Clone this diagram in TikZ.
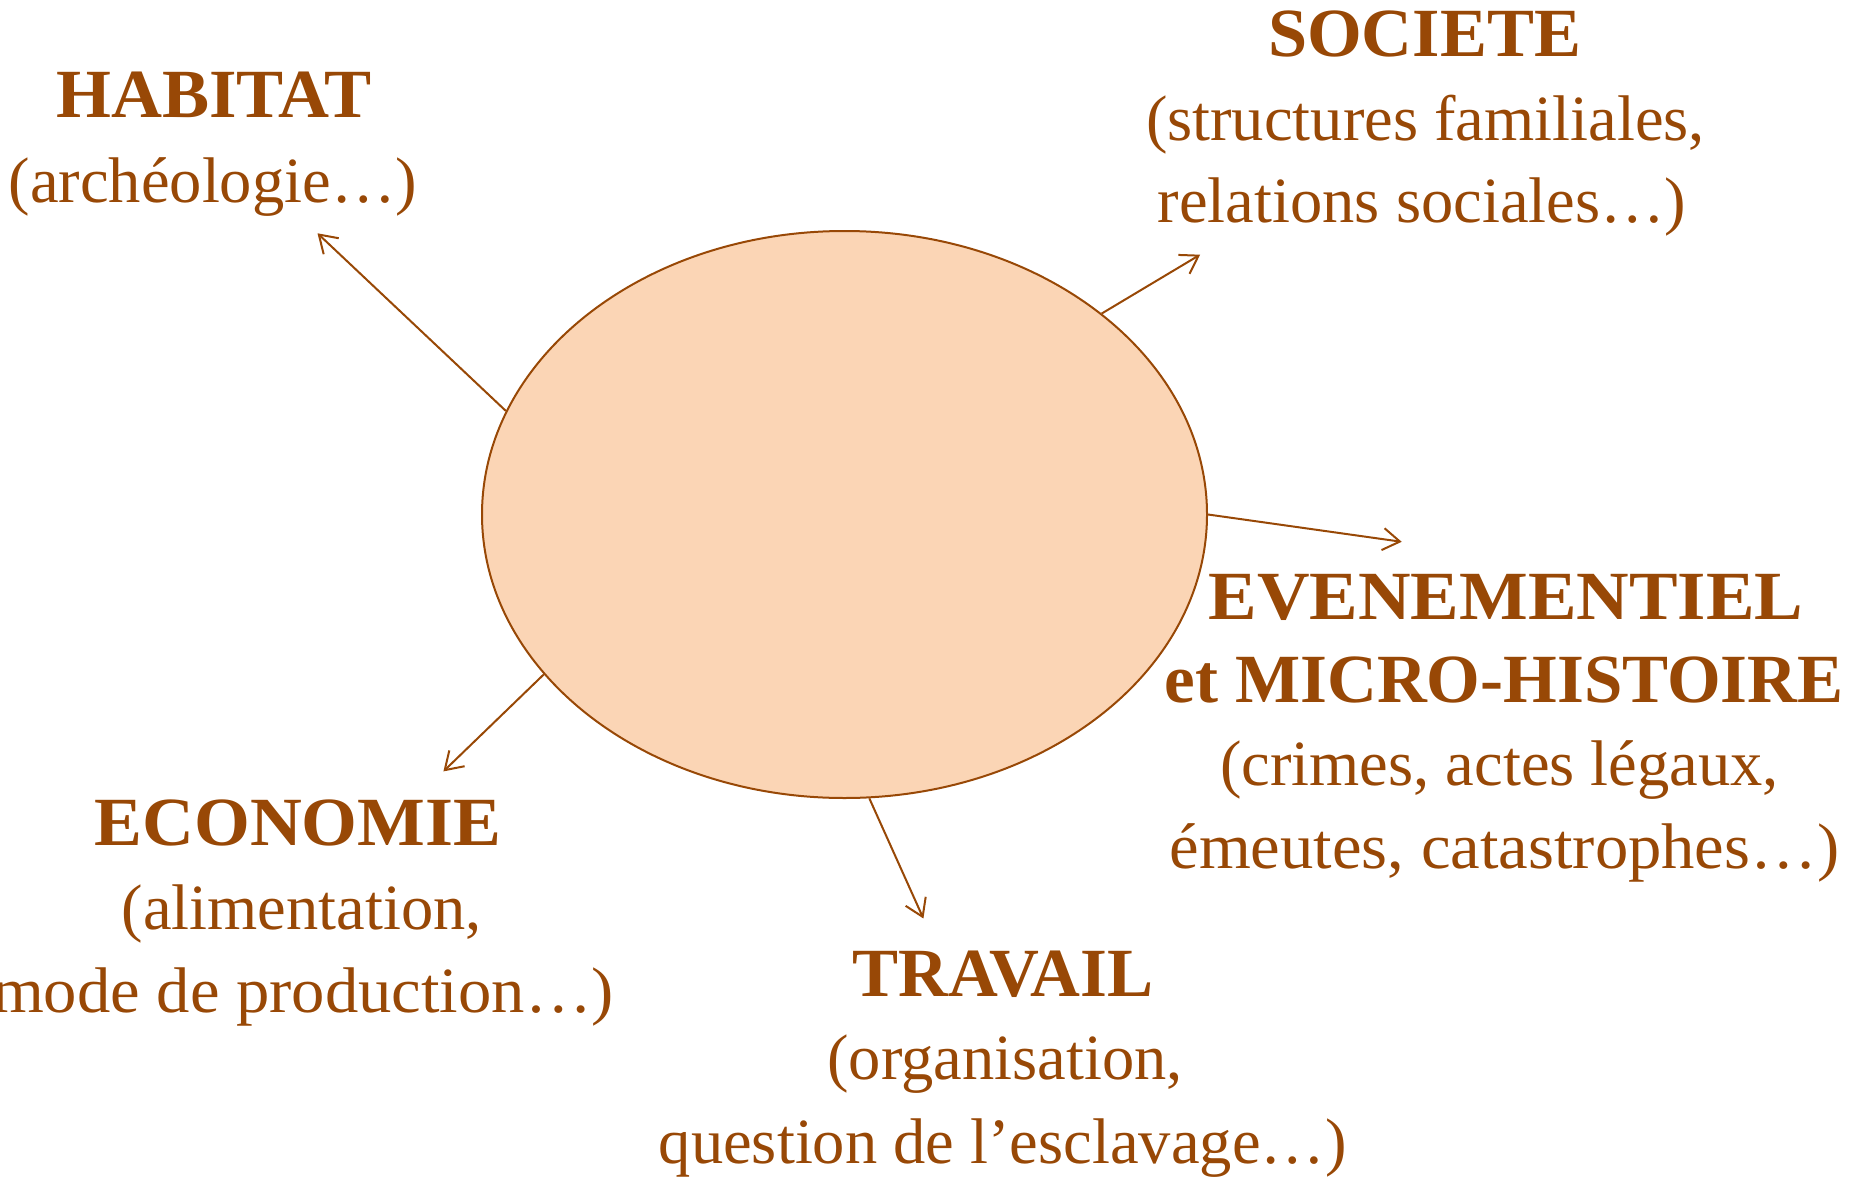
\documentclass[tikz,border=0pt]{standalone}
\usepackage{graphicx}
\usepackage{fontspec}
\setmainfont{Liberation Serif}
\usetikzlibrary{shapes.geometric,arrows.meta}
\definecolor{txtbrown}{HTML}{984806}
\definecolor{peach}{HTML}{FBD5B5}
\newcommand\hsc[2]{\scalebox{#1}[1]{#2}}
\begin{document}
\begin{tikzpicture}[x=1pt,y=-1pt,
  ttl/.style={anchor=base, inner sep=0pt, text=txtbrown, font=\fontsize{69}{80}\selectfont\bfseries},
  sub/.style={anchor=base, inner sep=0pt, text=txtbrown, font=\fontsize{64.5}{80}\selectfont},
  arr/.style={draw=txtbrown, line width=2pt, -{Straight Barb[length=17pt,width=22pt]}}]
\useasboundingbox (0,0) rectangle (1854,1180);
\node[ellipse, draw=txtbrown, fill=peach, line width=2pt, minimum width=725pt, minimum height=567pt, inner sep=0pt] (E) at (844.5,514.5) {};
\coordinate (tHab) at (317.5,233.3);
\coordinate (tSoc) at (1200.1,254.7);
\coordinate (tEve) at (1401.7,541.8);
\coordinate (tEco) at (443.4,771.4);
\coordinate (tTra) at (923.4,918.5);
\draw[arr] (E.163.5) -- (tHab);
\draw[arr] (E.38) -- (tSoc);
\draw[arr] (E.-0.6) -- (tEve);
\draw[arr] (E.208.7) -- (tEco);
\draw[arr] (E.275.3) -- (tTra);
\node[ttl] (habT) at (214,117.8) {\hsc{1.023}{HABITAT}};
\node[sub] (habS) at (212.8,202) {(archéologie…)};
\node[ttl] (socT) at (1424.5,56.4) {\hsc{1.02}{SOCIETE}};
\node[sub] (socS1) at (1425.4,140) {(structures familiales,};
\node[sub] (socS2) at (1422,222) {relations sociales…)};
\node[ttl] (eveT1) at (1506,619.3) {\hsc{1.055}{EVENEMENTIEL}};
\node[ttl] (eveT2) at (1504,702.1) {et MICRO-HISTOIRE};
\node[sub] (eveS1) at (1499.5,785.7) {(crimes, actes légaux,};
\node[sub] (eveS2) at (1504.3,868.4) {\hsc{1.033}{émeutes, catastrophes…)}};
\node[ttl] (ecoT) at (298,845.9) {\hsc{1.04}{ECONOMIE}};
\node[sub] (ecoS1) at (301.8,929.8) {(alimentation,};
\node[sub] (ecoS2) at (303,1012.6) {\hsc{1.033}{mode de production…)}};
\node[ttl] (traT) at (1003,996.4) {TRAVAIL};
\node[sub] (traS1) at (1005,1079.2) {(organisation,};
\node[sub] (traS2) at (1002.7,1163.8) {question de l’esclavage…)};
\end{tikzpicture}
\end{document}
